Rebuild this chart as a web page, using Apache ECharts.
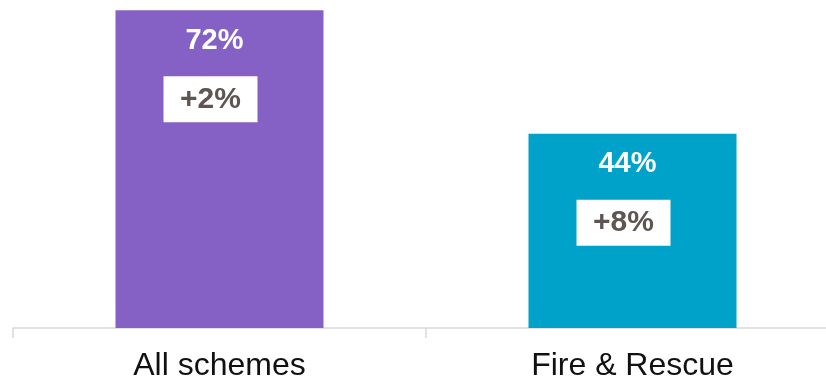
<!DOCTYPE html>
<html>
<head>
<meta charset="utf-8">
<script src="https://cdn.jsdelivr.net/npm/echarts@6/dist/echarts.min.js"></script>
<style>
	html, body { margin: 0; padding: 0; background: #fff; }
	#main { width: 826px; height: 382px; }
</style>
</head>
<body>
<div id="main"></div>
<script>
	// 数据
	var categories = ['All schemes', 'Fire & Rescue'];
	var values = [72, 44];
	var changes = ['+2%', '+8%'];
	var barColors = ['#8661c5', '#00a2c9'];

	var chart = echarts.init(document.getElementById('main'));

	var option = {
		animation: false,
		grid: {
			left: 13,
			width: 826,
			top: -3,
			bottom: 54,
			containLabel: false,
			outerBoundsMode: 'none'
		},
		xAxis: {
			type: 'category',
			data: categories,
			axisLine: { lineStyle: { color: '#d9d9d9', width: 1.5 } },
			axisTick: { show: true, length: 10, lineStyle: { color: '#d9d9d9', width: 1.5 } },
			axisLabel: {
				color: '#111',
				fontSize: 32,
				fontFamily: 'Liberation Sans',
				margin: 22
			}
		},
		yAxis: {
			type: 'value',
			min: 0,
			max: 75,
			show: false,
			splitLine: { show: false }
		},
		series: [{
			type: 'bar',
			barWidth: 208,
			data: values.map(function (v, i) {
				return { value: v, itemStyle: { color: barColors[i] } };
			}),
			label: {
				show: true,
				position: 'insideTop',
				distance: 16,
				offset: [-5, 0],
				formatter: '{c}%',
				color: '#fff',
				fontSize: 29,
				fontWeight: 'bold',
				fontFamily: 'Liberation Sans'
			}
		}, {
			// 白底变化标签
			type: 'scatter',
			symbolSize: 0,
			data: values,
			silent: true,
			itemStyle: { opacity: 1 },
			label: {
				show: true,
				position: 'inside',
				offset: [-9, 89],
				formatter: function (p) { return changes[p.dataIndex]; },
				backgroundColor: '#fff',
				width: 94,
				height: 46,
				lineHeight: 52,
				align: 'center',
				color: '#5f5552',
				fontSize: 30,
				fontWeight: 'bold',
				fontFamily: 'Liberation Sans'
			}
		}]
	};

	chart.setOption(option);
</script>
</body>
</html>
